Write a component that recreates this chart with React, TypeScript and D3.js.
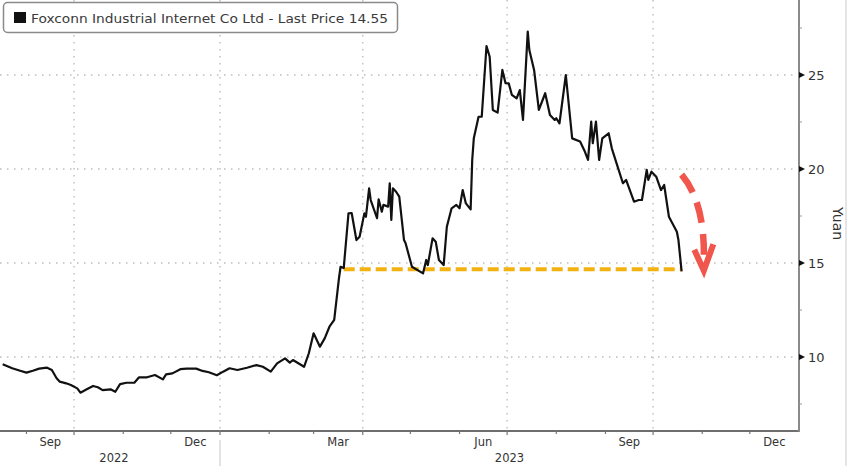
import React from "react";
import * as d3 from "d3";

const seriesName = "Foxconn Industrial Internet Co Ltd - Last Price 14.55";
const yAxisTitle = "Yuan";

const dates: string[] = [
  "2022-08-17","2022-08-23","2022-08-28","2022-09-01","2022-09-05","2022-09-09","2022-09-14","2022-09-17",
  "2022-09-20","2022-09-22","2022-09-26","2022-09-29","2022-10-03","2022-10-05","2022-10-09","2022-10-13",
  "2022-10-16","2022-10-19","2022-10-24","2022-10-27","2022-10-30","2022-11-03","2022-11-08","2022-11-11",
  "2022-11-16","2022-11-21","2022-11-26","2022-11-28","2022-12-02","2022-12-07","2022-12-11","2022-12-17",
  "2022-12-21","2022-12-25","2022-12-30","2023-01-03","2023-01-07","2023-01-12","2023-01-18","2023-01-24",
  "2023-01-28","2023-02-02","2023-02-06","2023-02-11","2023-02-14","2023-02-16","2023-02-23","2023-02-26",
  "2023-03-01","2023-03-05","2023-03-08","2023-03-11","2023-03-14","2023-03-17","2023-03-18","2023-03-20",
  "2023-03-23","2023-03-25","2023-03-28","2023-03-30","2023-04-02","2023-04-03","2023-04-05","2023-04-06",
  "2023-04-10","2023-04-11","2023-04-13","2023-04-14","2023-04-17","2023-04-18","2023-04-19","2023-04-20",
  "2023-04-22","2023-04-24","2023-04-27","2023-04-28","2023-05-02","2023-05-09","2023-05-11","2023-05-12",
  "2023-05-15","2023-05-17","2023-05-19","2023-05-22","2023-05-24","2023-05-27","2023-05-30","2023-06-01",
  "2023-06-03","2023-06-05","2023-06-08","2023-06-09","2023-06-10","2023-06-13","2023-06-15","2023-06-18",
  "2023-06-20","2023-06-22","2023-06-25","2023-06-28","2023-06-30","2023-07-02","2023-07-04","2023-07-07",
  "2023-07-09","2023-07-11","2023-07-14","2023-07-15","2023-07-18","2023-07-21","2023-07-25","2023-07-28",
  "2023-07-31","2023-08-01","2023-08-03","2023-08-07","2023-08-11","2023-08-16","2023-08-19","2023-08-21",
  "2023-08-23","2023-08-24","2023-08-26","2023-08-28","2023-08-30","2023-09-03","2023-09-05","2023-09-08",
  "2023-09-12","2023-09-14","2023-09-19","2023-09-22","2023-09-24","2023-09-27","2023-09-28","2023-09-30",
  "2023-10-03","2023-10-06","2023-10-08","2023-10-11","2023-10-16","2023-10-17","2023-10-19"
];

const prices: number[] = [
  9.61,9.40,9.27,9.17,9.27,9.38,9.43,9.31,
  8.87,8.69,8.60,8.51,8.33,8.10,8.28,8.46,
  8.39,8.24,8.28,8.15,8.56,8.63,8.63,8.92,
  8.92,9.04,8.81,9.08,9.13,9.35,9.38,9.38,
  9.26,9.19,9.03,9.22,9.40,9.31,9.43,9.57,
  9.48,9.22,9.66,9.93,9.70,9.84,9.48,10.20,
  11.26,10.55,10.99,11.61,11.97,14.19,14.80,14.73,
  17.64,17.66,16.22,16.40,17.64,17.46,18.97,18.35,
  17.38,18.39,17.73,18.09,18.00,19.24,17.29,18.97,
  18.79,18.53,16.22,16.05,14.80,14.45,15.16,14.89,
  16.31,16.13,15.16,14.89,16.93,17.91,18.09,17.91,
  18.88,18.17,17.85,20.48,21.63,22.78,22.78,26.54,
  25.97,23.14,23.00,25.27,24.56,24.56,23.94,23.76,
  24.20,22.61,27.31,26.33,25.27,23.14,24.03,22.87,
  22.61,22.70,22.43,25.00,21.63,21.46,20.93,20.48,
  22.52,21.37,22.52,20.48,21.63,21.90,21.10,20.30,
  19.24,19.42,18.26,18.35,18.35,19.95,19.42,19.86,
  19.59,18.88,19.15,17.46,16.66,16.22,14.55
];

const yTicks: number[] = [10, 15, 20, 25];
const yMinorTicks: number[] = [7.5, 12.5, 17.5, 22.5, 27.5];
const monthLabelMonths: string[] = ["2022-09-01", "2022-12-01", "2023-03-01", "2023-06-01", "2023-09-01", "2023-12-01"];
const monthLabels: string[] = ["Sep", "Dec", "Mar", "Jun", "Sep", "Dec"];
const yearLabels: string[] = ["2022", "2023"];

// annotation: support level and arrow
const supportLevel = 14.67;
const supportDates: string[] = ["2023-03-20", "2023-10-19"];
const arrowDates: string[] = ["2023-10-19", "2023-11-03", "2023-11-02"];
const arrowValues: number[] = [19.7, 18.2, 15.1];
const arrowHeadDates: string[] = ["2023-10-27", "2023-11-02", "2023-11-08"];
const arrowHeadValues: number[] = [15.7, 14.6, 16.0];

const W = 848;
const H = 466;
const plotRight = 799;
const plotBottom = 431;

const parse = d3.timeParse("%Y-%m-%d");

export default function App() {
  const x = d3
    .scaleTime()
    .domain([parse("2023-01-01")!, parse("2024-01-01")!])
    .range([220, plotRight]);
  const y = d3.scaleLinear().domain([10, 25]).range([357, 75]);

  const xMin = x.invert(0);
  const xMax = x.invert(plotRight);

  const data = dates.map((d, i) => ({ date: parse(d)!, value: prices[i] }));
  const line = d3
    .line<{ date: Date; value: number }>()
    .x((d) => x(d.date))
    .y((d) => y(d.value));

  const monthTicks = d3.timeMonth.range(d3.timeMonth.ceil(xMin), xMax);
  const quarterTicks = monthTicks.filter((d) => d.getMonth() % 3 === 0);

  const arrowPts = arrowDates.map((d, i) => [x(parse(d)!), y(arrowValues[i])]);
  const arrowPath = d3.path();
  arrowPath.moveTo(arrowPts[0][0], arrowPts[0][1]);
  arrowPath.quadraticCurveTo(arrowPts[1][0], arrowPts[1][1], arrowPts[2][0], arrowPts[2][1]);
  const headLine = d3.line<number>()
    .x((i) => x(parse(arrowHeadDates[i])!))
    .y((i) => y(arrowHeadValues[i]));

  const yearStarts = yearLabels.map((yy) => parse(`${yy}-01-01`)!);
  const yearEnds = yearLabels.map((yy) => parse(`${+yy + 1}-01-01`)!);

  return (
    <svg
      width={W}
      height={H}
      style={{ position: "absolute", left: 0, top: 0, background: "#fff" }}
      fontFamily="DejaVu Sans, sans-serif"
    >
      <rect width={W} height={H} fill="#fff" />
      {/* right page edge */}
      <line x1={846} x2={846} y1={0} y2={H} stroke="#dcdcdc" strokeWidth={1.5} />

      {/* horizontal grid */}
      {yTicks.map((t) => (
        <line key={"hg" + t} x1={0} x2={plotRight} y1={y(t)} y2={y(t)}
          stroke="#bdbdbd" strokeWidth={1.4} strokeDasharray="1.5 5.5" />
      ))}
      {/* vertical grid at quarters */}
      {quarterTicks.map((d) => (
        <line key={"vg" + d.toISOString()} x1={x(d)} x2={x(d)} y1={0} y2={plotBottom}
          stroke="#bdbdbd" strokeWidth={1.4} strokeDasharray="1.5 5.5" />
      ))}

      {/* support level */}
      <line
        x1={x(parse(supportDates[0])!)}
        x2={x(parse(supportDates[1])!)}
        y1={y(supportLevel)}
        y2={y(supportLevel)}
        stroke="#F3B212"
        strokeWidth={4}
        strokeDasharray="11 5"
      />

      {/* price line */}
      <path d={line(data) ?? ""} fill="none" stroke="#111" strokeWidth={2.2} strokeLinejoin="round" />

      {/* arrow */}
      <path d={arrowPath.toString()} fill="none" stroke="#F0564C" strokeWidth={6.5} strokeDasharray="21 11" />
      <path d={headLine([0, 1, 2]) ?? ""} fill="none" stroke="#F0564C" strokeWidth={6} strokeLinejoin="miter" />

      {/* axes */}
      <line x1={0} x2={plotRight} y1={plotBottom} y2={plotBottom} stroke="#6e6e6e" strokeWidth={1.8} />
      <line x1={plotRight} x2={plotRight} y1={0} y2={plotBottom + 1} stroke="#8a8a8a" strokeWidth={2} />

      {/* x ticks */}
      {monthTicks.map((d) => {
        const major = d.getMonth() % 3 === 0;
        return (
          <line key={"xt" + d.toISOString()} x1={x(d)} x2={x(d)} y1={plotBottom - (major ? 1 : 0)}
            y2={plotBottom + (major ? 4 : 3)} stroke="#777" strokeWidth={1.2} />
        );
      })}
      {monthLabelMonths.map((m, i) => {
        const s = parse(m)!;
        const e = d3.timeMonth.offset(s, 1);
        return (
          <text key={"ml" + i} x={(x(s) + x(e)) / 2} y={446} fontSize={11.5} fill="#333"
            textAnchor="middle">{monthLabels[i]}</text>
        );
      })}
      {/* year separator and labels */}
      {yearStarts.slice(1).map((d) => (
        <line key={"ys" + d.toISOString()} x1={x(d)} x2={x(d)} y1={440} y2={H} stroke="#cfcfcf" strokeWidth={1.2} />
      ))}
      {yearLabels.map((yy, i) => {
        const a = Math.max(x(yearStarts[i]), 8);
        const b = Math.min(x(yearEnds[i]), plotRight);
        return (
          <text key={"yl" + yy} x={(a + b) / 2} y={462} fontSize={11.5} fill="#333" textAnchor="middle">{yy}</text>
        );
      })}

      {/* y ticks */}
      {yTicks.map((t) => (
        <g key={"yt" + t}>
          <path d={`M${plotRight},${y(t) - 3}L${plotRight + 6},${y(t)}L${plotRight},${y(t) + 3}Z`} fill="#111" />
          <text x={plotRight + 9} y={y(t) + 4.5} fontSize={13} fill="#333">{t}</text>
        </g>
      ))}
      {yMinorTicks.map((t) => (
        <line key={"ym" + t} x1={plotRight} x2={plotRight + 3} y1={y(t)} y2={y(t)} stroke="#999" strokeWidth={1} />
      ))}
      <text
        transform={`translate(${833},${y(17.1)}) rotate(90)`}
        fontSize={14}
        fill="#333"
        textAnchor="middle"
      >
        {yAxisTitle}
      </text>

      {/* legend */}
      <rect x={3.5} y={2.5} width={394} height={30} rx={4} fill="#fff" stroke="#8a8a8a" strokeWidth={1.5} />
      <rect x={14} y={12} width={12} height={11} fill="#111" />
      <text x={31} y={22.5} fontSize={13} fill="#3a3a3a" textLength={357} lengthAdjust="spacingAndGlyphs">
        {seriesName}
      </text>
    </svg>
  );
}
